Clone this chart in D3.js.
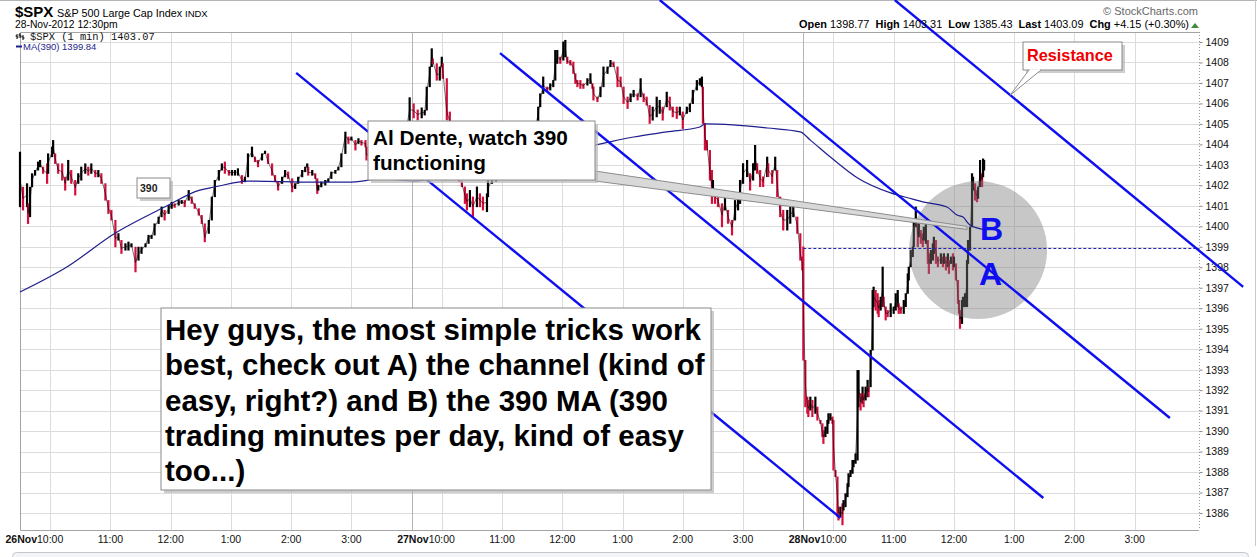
<!DOCTYPE html>
<html>
<head>
<meta charset="utf-8">
<script src="https://cdn.jsdelivr.net/npm/d3@7"></script>
<style>
  html, body { margin: 0; padding: 0; background: #fff; }
  svg { display: block; font-family: "Liberation Sans", Arial, sans-serif; }
</style>
</head>
<body>
<svg id="chart" width="1257" height="557"></svg>
<script>
'use strict';

// ---- data -----------------------------------------------------------------

const sessionLength = 390; // trading minutes per day
const dayLabels = ['26Nov', '27Nov', '28Nov'];
const hourLabels = ['10:00', '11:00', '12:00', '1:00', '2:00', '3:00'];
const hourMinutes = [30, 90, 150, 210, 270, 330];
const priceTicks = d3.range(1386, 1410);

const statLabels = ['Open', 'High', 'Low', 'Last', 'Chg'];
const statValues = ['1398.77', '1403.31', '1385.43', '1403.09', '+4.15 (+0.30%)'];
const legendLast = '1403.07';
const prevClose = 1398.94;

// [minute since the open, high, low]
const nov26Bars = [
  [0,1403.64,1400.96],[3,1401.93,1400.80],[7,1402.10,1400.96],[8,1401.12,1400.14],[10,1401.93,1400.47],
  [12,1402.59,1401.93],[15,1402.75,1402.50],[18,1403.16,1402.75],[20,1403.24,1402.91],[23,1402.91,1402.59],
  [27,1403.07,1402.10],[28,1403.56,1402.59],[32,1403.89,1403.40],[33,1404.21,1403.56],[35,1403.56,1403.07],
  [38,1402.91,1402.59],[42,1403.07,1402.26],[45,1402.42,1401.77],[48,1403.24,1402.26],[51,1402.75,1402.10],
  [55,1402.26,1401.53],[58,1402.59,1402.10],[61,1402.91,1402.26],[65,1403.07,1402.59],[68,1402.91,1402.50],
  [71,1403.07,1402.59],[75,1402.75,1402.42],[78,1402.75,1402.42],[81,1402.59,1402.10],[85,1401.93,1401.28],
  [88,1401.12,1400.63],[91,1400.80,1400.31],[95,1399.82,1399.00],[98,1399.66,1399.33],[101,1399.17,1398.68],
  [105,1399.17,1398.84],[108,1399.25,1398.84],[111,1399.17,1399.00],[115,1398.68,1397.78],[118,1399.00,1398.35],
  [121,1399.00,1398.68],[125,1399.17,1399.00],[128,1399.58,1399.41],[131,1399.58,1399.41],[134,1400.14,1399.82],
  [138,1400.47,1400.14],[141,1400.96,1400.63],[144,1400.80,1400.31],[148,1401.04,1400.63],[151,1401.20,1400.88],
  [154,1401.12,1400.93],[158,1401.28,1401.04],[161,1401.28,1401.12],[164,1401.28,1400.96],[168,1401.77,1401.45],
  [171,1401.45,1401.12],[174,1401.12,1400.88],[178,1400.80,1400.55],[181,1400.47,1400.14],[184,1399.66,1399.25],
  [188,1400.31,1399.82],[191,1401.45,1400.96],[194,1402.26,1401.93],[198,1402.75,1402.26],[201,1403.07,1402.75],
  [204,1403.16,1402.59],[208,1402.75,1402.50],[211,1402.75,1402.50],[214,1402.75,1402.50],[217,1402.83,1402.50],
  [221,1402.34,1402.10],[224,1402.42,1402.18],[227,1403.56,1403.07],[231,1403.89,1403.40],[234,1403.40,1403.16],
  [237,1403.24,1402.91],[241,1403.56,1403.32],[244,1403.69,1403.56],[247,1403.24,1403.07],[251,1402.91,1402.50],
  [254,1402.42,1402.18],[257,1402.10,1401.77],[261,1402.42,1402.10],[264,1402.75,1402.42],[267,1402.67,1402.34],
  [271,1402.10,1401.69],[274,1402.10,1401.85],[277,1402.42,1402.10],[281,1402.75,1402.50],[284,1402.91,1402.67],
  [286,1403.07,1402.91],[287,1402.75,1402.50],[291,1402.75,1402.50],[294,1402.59,1402.34],[296,1401.93,1401.61],
  [297,1402.02,1401.77],[300,1402.18,1401.93],[304,1402.26,1402.02],[307,1402.34,1402.18],[310,1402.67,1402.50],
  [314,1402.75,1402.59],[317,1402.91,1402.75],[320,1403.56,1403.24],[324,1404.62,1404.21],[327,1404.38,1404.05],
  [330,1404.38,1404.21],[334,1404.21,1403.73],[337,1404.30,1404.05],[340,1404.21,1403.97],[344,1404.21,1403.89],
  [345,1403.73,1403.24],[349,1403.80,1403.20],[353,1403.50,1402.90],[357,1403.20,1402.60],[361,1403.00,1402.40],
  [365,1403.30,1402.70],[369,1403.50,1402.90],[373,1403.80,1403.20],[377,1404.00,1403.30],[381,1404.30,1403.60],
  [384,1404.90,1404.20],[388,1406.30,1405.10]
];

const nov27Bars = [
  [2,1406.00,1405.30],[6,1405.70,1405.20],[10,1405.80,1405.30],[13,1405.68,1405.44],[15,1406.82,1406.33],
  [18,1407.80,1407.14],[20,1408.69,1408.12],[21,1408.20,1407.96],[25,1407.63,1407.14],[28,1407.80,1407.14],
  [30,1408.28,1407.80],[31,1407.96,1407.23],[35,1406.00,1405.20],[38,1405.60,1404.60],[41,1404.80,1403.80],
  [44,1403.90,1403.00],[47,1403.00,1402.20],[50,1402.18,1401.94],[53,1401.94,1401.12],[55,1401.61,1400.80],
  [58,1401.77,1400.96],[61,1401.45,1400.47],[65,1401.94,1400.96],[68,1401.61,1400.96],[71,1401.45,1400.80],
  [75,1401.61,1400.72],[76,1402.26,1401.45],[80,1402.43,1402.10],[84,1402.80,1402.20],[88,1403.00,1402.40],
  [92,1402.90,1402.30],[96,1403.30,1402.60],[100,1403.60,1402.90],[104,1403.50,1402.90],[108,1403.90,1403.20],
  [112,1404.20,1403.50],[116,1404.00,1403.40],[120,1404.60,1403.80],[123,1405.10,1404.40],[126,1405.84,1405.19],
  [128,1406.49,1405.84],[131,1407.31,1406.49],[135,1406.82,1406.58],[138,1406.98,1406.66],[141,1407.14,1406.82],
  [143,1408.61,1407.14],[145,1408.61,1407.96],[148,1408.28,1407.96],[151,1409.02,1408.12],[153,1409.10,1408.28],
  [155,1408.12,1407.96],[158,1408.12,1407.88],[161,1408.04,1407.47],[163,1407.47,1406.98],[165,1407.14,1406.82],
  [168,1407.14,1406.74],[171,1406.98,1406.74],[175,1407.23,1406.90],[178,1407.47,1406.98],[180,1406.98,1406.74],
  [181,1406.82,1406.17],[185,1406.33,1406.09],[188,1406.82,1406.33],[191,1407.80,1406.98],[195,1407.80,1407.47],
  [198,1408.12,1407.80],[201,1408.04,1407.80],[205,1407.47,1406.82],[208,1407.31,1406.82],[211,1406.66,1406.00],
  [215,1406.33,1405.76],[218,1406.49,1406.09],[221,1406.66,1406.33],[225,1406.49,1406.17],[228,1407.23,1406.33],
  [231,1406.49,1406.09],[234,1406.33,1405.92],[237,1405.68,1405.03],[240,1405.84,1405.19],[244,1406.33,1405.35],
  [247,1406.17,1405.52],[250,1405.84,1405.19],[254,1406.57,1405.84],[257,1406.33,1405.68],[260,1405.84,1405.35],
  [264,1405.84,1405.27],[267,1405.84,1405.44],[270,1405.60,1404.78],[274,1405.84,1405.52],[277,1406.00,1405.60],
  [280,1406.66,1406.17],[284,1407.14,1406.66],[287,1407.23,1406.90],[289,1407.31,1406.82],[290,1406.82,1405.03],
  [292,1405.03,1403.73],[294,1404.21,1403.73],[297,1403.08,1402.26],[299,1402.75,1401.12],[300,1402.26,1401.77],
  [302,1401.77,1401.12],[305,1401.61,1400.96],[309,1401.12,1399.98],[312,1401.45,1400.80],[315,1400.80,1400.15],
  [319,1400.31,1399.58],[322,1401.28,1400.31],[325,1401.61,1400.80],[327,1402.26,1401.12],[330,1403.08,1402.10],
  [334,1403.24,1402.43],[337,1402.59,1401.77],[340,1403.08,1402.26],[342,1403.97,1402.75],[344,1403.08,1402.59],
  [347,1402.75,1401.94],[350,1402.43,1401.94],[354,1403.40,1402.75],[355,1403.08,1402.43],[359,1402.75,1402.10],
  [362,1403.40,1402.75],[364,1402.75,1401.45],[367,1400.96,1400.47],[370,1400.80,1399.82],[374,1400.80,1399.82],
  [377,1400.96,1400.15],[380,1401.04,1400.47],[384,1400.47,1399.66],[387,1399.00,1398.35],[389,1398.52,1397.87]
];

const nov28Bars = [
  [0,1399.01,1393.47],[2,1393.47,1391.19],[4,1391.68,1390.87],[5,1391.52,1390.71],[7,1391.68,1391.03],
  [9,1391.52,1390.71],[12,1391.68,1390.87],[14,1391.19,1390.54],[17,1390.54,1390.38],[19,1390.05,1389.73],
  [20,1390.05,1389.40],[22,1390.22,1389.73],[24,1390.54,1389.89],[25,1390.87,1390.38],[27,1390.87,1390.54],
  [29,1390.71,1390.38],[30,1390.54,1388.10],[32,1388.10,1387.78],[34,1387.78,1385.82],[35,1386.31,1385.66],
  [37,1386.31,1385.82],[39,1386.47,1385.43],[40,1386.63,1386.15],[42,1386.96,1386.31],[44,1387.45,1386.80],
  [45,1387.94,1387.29],[47,1388.10,1387.78],[49,1388.59,1387.94],[50,1388.59,1388.26],[52,1388.91,1388.43],
  [54,1392.98,1388.59],[55,1392.98,1391.19],[57,1391.85,1391.03],[59,1392.17,1391.36],[60,1391.85,1391.19],
  [62,1392.17,1391.52],[64,1392.50,1391.68],[65,1392.17,1391.68],[67,1393.96,1392.17],[69,1396.89,1393.96],
  [70,1397.05,1396.08],[72,1396.89,1395.91],[74,1396.73,1395.75],[75,1396.40,1395.59],[77,1396.56,1395.91],
  [79,1398.03,1396.08],[80,1396.56,1396.08],[82,1396.08,1395.43],[84,1395.91,1395.59],[87,1396.24,1395.59],
  [90,1396.08,1395.75],[92,1396.73,1395.91],[94,1396.89,1396.08],[95,1396.24,1395.75],[97,1396.08,1395.75],
  [100,1396.40,1395.75],[102,1396.73,1396.08],[104,1397.70,1396.73],[105,1398.03,1397.38],[107,1398.84,1398.03],
  [109,1399.01,1398.52],[110,1400.31,1399.01],[112,1400.96,1399.98],[114,1400.15,1399.01],[115,1400.15,1399.49],
  [117,1399.82,1399.17],[119,1399.66,1399.01],[120,1399.98,1399.33],[122,1400.15,1399.17],[124,1399.33,1398.19],
  [125,1398.68,1397.70],[127,1398.84,1398.19],[129,1399.17,1398.35],[130,1399.49,1398.68],[132,1399.33,1398.19],
  [134,1398.52,1398.03],[137,1398.68,1398.19],[139,1398.52,1398.03],[140,1398.68,1398.19],[142,1398.52,1397.87],
  [144,1398.68,1398.03],[145,1398.35,1397.70],[147,1398.52,1398.19],[149,1398.68,1397.87],[150,1398.52,1398.03],
  [152,1398.19,1397.38],[154,1397.05,1396.24],[155,1396.40,1395.75],[156,1395.91,1395.02],[158,1396.40,1395.26],
  [159,1396.56,1396.08],[161,1396.73,1396.08],[163,1398.35,1396.08],[164,1399.33,1398.19],[166,1399.98,1398.84],
  [168,1402.59,1400.64],[169,1402.42,1401.77],[171,1402.10,1401.28],[173,1401.77,1401.20],[174,1401.94,1401.37],
  [176,1403.24,1402.10],[178,1402.59,1401.94],[179,1403.31,1402.42],[180,1403.24,1402.75]
];

// 390-minute moving average, minute counted from the 26Nov open
const maMinute = [0, 45, 95, 144, 179, 194, 227, 294, 327, 361, 393, 403, 440, 480, 520, 550, 573,
  611, 644, 677, 682, 710, 744, 777, 787, 807, 834, 867, 889, 899, 923, 933, 939, 946, 960];
const maValue = [1396.79, 1397.96, 1399.67, 1400.94, 1401.77, 1401.92, 1402.21, 1402.16, 1402.16, 1402.31,
  1402.21, 1402.26, 1402.50, 1402.90, 1403.40, 1403.75, 1403.97, 1404.36, 1404.61, 1404.85, 1405.00,
  1404.95, 1404.80, 1404.61, 1404.21, 1403.38, 1402.36, 1401.63, 1401.33, 1401.19, 1400.94, 1400.55,
  1400.45, 1400.06, 1399.84];

// hand drawn channel lines: [[minute, price], [minute, price]]
const channelLines = [
  [[275, 1407.49], [817, 1385.76]],
  [[478, 1408.46], [1019, 1386.73]],
  [[637, 1411.05], [1145, 1390.64]],
  [[871, 1411.05], [1218, 1397.04]]
];

const circleCenter = [954, 1398.84];
const noteTarget = [943, 1399.92];   // where the "Al Dente" pointer lands
const resistanceMinute = 986;        // point on the top channel line

const noteLines = [
  'Hey guys, the most simple tricks work',
  'best, check out A) the channel (kind of',
  'easy, right?) and B) the 390 MA (390',
  'trading minutes per day, kind of easy',
  'too...)'
];

// ---- layout -----------------------------------------------------------------

const svg = d3.select('#chart');
const plot = { left: 20, right: 1199, top: 32, bottom: 530 };

const x = d3.scaleLinear().domain([0, 1174]).range([plot.left, plot.right]);
const y = d3.scaleLinear().domain([1409, 1386]).range([42, 513]);

const red = '#d40f3c';
const blue = '#0e0ef0';
const navy = '#1e1e8e';

function fitWidth(sel, target) {
  const w = sel.node().getComputedTextLength();
  const fs = parseFloat(sel.attr('font-size'));
  const size = fs * target / w;
  sel.attr('font-size', size.toFixed(2));
  return size;
}

function shadowBox(g, x0, y0, w, h) {
  g.append('rect').attr('x', x0 + 3).attr('y', y0 + 3).attr('width', w).attr('height', h)
    .attr('fill', '#b8b8b8').attr('opacity', 0.7);
  g.append('rect').attr('x', x0).attr('y', y0).attr('width', w).attr('height', h)
    .attr('fill', '#fff').attr('stroke', '#8a8a8a').attr('stroke-width', 1);
}

// frame lines round the image
svg.append('line').attr('x1', 0).attr('x2', 1257).attr('y1', 0.5).attr('y2', 0.5)
  .attr('stroke', '#b4b4b4');
svg.append('line').attr('x1', 1255.5).attr('x2', 1255.5).attr('y1', 0).attr('y2', 546)
  .attr('stroke', '#c8c8c8');

// ---- grid -------------------------------------------------------------------

const grid = svg.append('g');
grid.selectAll('.hgrid').data(priceTicks).enter().append('line')
  .attr('x1', plot.left).attr('x2', plot.right)
  .attr('y1', d => Math.round(y(d)) + 0.5).attr('y2', d => Math.round(y(d)) + 0.5)
  .attr('stroke', '#dcdcdc');

const hourTicks = [];
dayLabels.forEach((day, d) => {
  hourMinutes.forEach((h, i) => hourTicks.push({ m: d * sessionLength + h, label: hourLabels[i], day: i === 0 ? day : null }));
});

grid.selectAll('.vgrid').data(hourTicks).enter().append('line')
  .attr('x1', d => Math.round(x(d.m)) + 0.5).attr('x2', d => Math.round(x(d.m)) + 0.5)
  .attr('y1', plot.top).attr('y2', plot.bottom)
  .attr('stroke', '#dcdcdc');

grid.selectAll('.dgrid').data([sessionLength, 2 * sessionLength]).enter().append('line')
  .attr('x1', d => Math.round(x(d)) + 0.5).attr('x2', d => Math.round(x(d)) + 0.5)
  .attr('y1', plot.top).attr('y2', plot.bottom)
  .attr('stroke', '#b4b4b4');

// plot border: left, top, bottom solid, right is the dotted axis
svg.append('path')
  .attr('d', `M${plot.right},${plot.top + 0.5}H${plot.left + 0.5}V${plot.bottom + 0.5}H${plot.right}`)
  .attr('fill', 'none').attr('stroke', '#a4a4a4');

// ---- axes -------------------------------------------------------------------

const yAxis = svg.append('g')
  .attr('transform', `translate(${plot.right + 0.5},0)`)
  .call(d3.axisRight(y).tickValues(priceTicks).tickSize(3).tickPadding(3).tickFormat(d3.format('d')));
yAxis.select('.domain').remove();
yAxis.selectAll('.tick line').attr('stroke', '#888');
yAxis.selectAll('.tick text')
  .attr('font-family', '"Liberation Sans", Arial, sans-serif').attr('font-size', 10.5).attr('fill', '#111');
svg.append('line')
  .attr('x1', plot.right + 0.5).attr('x2', plot.right + 0.5).attr('y1', plot.top).attr('y2', plot.bottom)
  .attr('stroke', '#999').attr('stroke-dasharray', '1,2');

const xLabels = svg.append('g');
hourTicks.forEach(t => {
  const lx = x(t.m);
  const txt = xLabels.append('text').attr('x', lx).attr('y', 543)
    .attr('text-anchor', 'middle').attr('font-size', 10.5).attr('fill', '#111').text(t.label);
  if (t.day) {
    const half = txt.node().getComputedTextLength() / 2;
    xLabels.append('text').attr('x', lx - half).attr('y', 543)
      .attr('text-anchor', 'end').attr('font-size', 10.5).attr('font-weight', 'bold')
      .attr('fill', '#111').text(t.day);
  }
});

// ---- price bars ---------------------------------------------------------------

const bars = [];
[nov26Bars, nov27Bars, nov28Bars].forEach((day, d) => {
  day.forEach(b => bars.push({ m: d * sessionLength + b[0], hi: b[1], lo: b[2] }));
});
bars.forEach((b, i) => {
  const prev = i > 0 ? bars[i - 1] : b;
  b.mid = (b.hi + b.lo) / 2;
  b.up = i === 0 || b.mid >= (prev.hi + prev.lo) / 2;
  // the 1-min bars touch each other, so stretch each to reach the one before
  b.top = Math.max(b.hi, prev.lo);
  b.bot = Math.min(b.lo, prev.hi);
});

const barG = svg.append('g');
barG.selectAll('line').data(bars).enter().append('line')
  .attr('x1', d => x(d.m)).attr('x2', d => x(d.m))
  .attr('y1', d => y(d.top)).attr('y2', d => y(d.bot) + 0.5)
  .attr('stroke', d => d.up ? '#000' : red)
  .attr('stroke-width', 2.2);

barG.append('path')
  .datum(bars)
  .attr('d', d3.line().x(d => x(d.m)).y(d => y(d.mid)))
  .attr('fill', 'none').attr('stroke', '#000').attr('stroke-width', 1).attr('opacity', 0.55);

// grey highlight circle over the bars
svg.append('circle')
  .attr('cx', x(circleCenter[0])).attr('cy', y(circleCenter[1])).attr('r', 69)
  .attr('fill', '#7a7a7a').attr('opacity', 0.42);

// ---- overlays -----------------------------------------------------------------

svg.append('path')
  .datum(d3.zip(maMinute, maValue))
  .attr('d', d3.line().x(d => x(d[0])).y(d => y(d[1])).curve(d3.curveMonotoneX))
  .attr('fill', 'none').attr('stroke', navy).attr('stroke-width', 1.2);

svg.append('line')
  .attr('x1', x(2 * sessionLength)).attr('x2', plot.right)
  .attr('y1', Math.round(y(prevClose)) + 0.5).attr('y2', Math.round(y(prevClose)) + 0.5)
  .attr('stroke', '#2424b4').attr('stroke-width', 1).attr('stroke-dasharray', '3,2');

svg.selectAll('.channel').data(channelLines).enter().append('line')
  .attr('x1', d => x(d[0][0])).attr('y1', d => y(d[0][1]))
  .attr('x2', d => x(d[1][0])).attr('y2', d => y(d[1][1]))
  .attr('stroke', blue).attr('stroke-width', 2.4);

svg.append('text').attr('x', 980).attr('y', 240)
  .attr('font-size', 32).attr('font-weight', 'bold').attr('fill', blue).text('B');
svg.append('text').attr('x', 979).attr('y', 285)
  .attr('font-size', 32).attr('font-weight', 'bold').attr('fill', blue).text('A');

// ---- callouts -----------------------------------------------------------------

// "390" label
const tag = svg.append('g');
shadowBox(tag, 137, 178, 33, 20);
tag.append('text').attr('x', 140).attr('y', 192)
  .attr('font-size', 10.5).attr('font-weight', 'bold').attr('fill', '#222').text('390');

// "Al Dente" note with its long pointer to the MA
const note = svg.append('g');
const tx = x(noteTarget[0]), ty = y(noteTarget[1]);
note.append('path')
  .attr('d', `M595,171L${tx},${ty - 1.5}L${tx},${ty + 1.5}L595,181Z`)
  .attr('fill', '#d8d8d8').attr('stroke', '#8c8c8c').attr('stroke-width', 1);
shadowBox(note, 368, 121, 227, 59);
const n1 = note.append('text').attr('x', 373).attr('y', 145)
  .attr('font-size', 20).attr('font-weight', 'bold').attr('fill', '#000').text('Al Dente, watch 390');
const nSize = fitWidth(n1, 195);
note.append('text').attr('x', 373).attr('y', 170)
  .attr('font-size', nSize).attr('font-weight', 'bold').attr('fill', '#000').text('functioning');

// "Resistance" pointing at the top channel line
const topLine = channelLines[3];
const rv = topLine[0][1] + (resistanceMinute - topLine[0][0]) * (topLine[1][1] - topLine[0][1]) / (topLine[1][0] - topLine[0][0]);
const res = svg.append('g');
shadowBox(res, 1023, 42, 99, 28);
res.append('path')
  .attr('d', `M1029,70L${x(resistanceMinute)},${y(rv)}L1041,70`)
  .attr('fill', '#fff').attr('stroke', '#8a8a8a').attr('stroke-width', 1);
res.append('line').attr('x1', 1030).attr('x2', 1040).attr('y1', 70).attr('y2', 70)
  .attr('stroke', '#fff').attr('stroke-width', 1.5);
const rt = res.append('text').attr('x', 1027).attr('y', 61)
  .attr('font-size', 16).attr('font-weight', 'bold').attr('fill', '#ee0000').text('Resistance');
fitWidth(rt, 86);

// big comment box
const big = svg.append('g');
shadowBox(big, 161, 308, 550, 182);
let bigSize = 28;
noteLines.forEach((line, i) => {
  const t = big.append('text').attr('x', 165).attr('y', 340 + i * 35.3)
    .attr('font-size', bigSize).attr('font-weight', 'bold').attr('fill', '#000').text(line);
  if (i === 0) bigSize = fitWidth(t, 536);
});

// ---- header -------------------------------------------------------------------

const head = svg.append('g');
head.append('text').attr('x', 15).attr('y', 17).attr('font-size', 15).attr('font-weight', 'bold').text('$SPX');
head.append('text').attr('x', 57).attr('y', 17).attr('font-size', 10.8).text('S&P 500 Large Cap Index');
head.append('text').attr('x', 185).attr('y', 17).attr('font-size', 9.5).text('INDX');
head.append('text').attr('x', 15).attr('y', 28).attr('font-size', 10.3).text('28-Nov-2012 12:30pm');

// legend inside the plot
const icon = head.append('g').attr('stroke', '#000').attr('stroke-width', 1);
[[17, 34, 39], [20, 33, 38], [23, 35, 40]].forEach(b => {
  icon.append('line').attr('x1', b[0]).attr('x2', b[0]).attr('y1', b[1]).attr('y2', b[2]);
  icon.append('line').attr('x1', b[0] - 1.5).attr('x2', b[0]).attr('y1', b[1] + 2).attr('y2', b[1] + 2);
  icon.append('line').attr('x1', b[0]).attr('x2', b[0] + 1.5).attr('y1', b[2] - 2).attr('y2', b[2] - 2);
});
head.append('text').attr('x', 30).attr('y', 40)
  .attr('font-family', '"Liberation Mono", "DejaVu Sans Mono", monospace').attr('font-size', 10.4)
  .attr('fill', '#111')
  .text('$SPX (1 min) ' + legendLast);
head.append('line').attr('x1', 16).attr('x2', 22).attr('y1', 46.5).attr('y2', 46.5)
  .attr('stroke', navy).attr('stroke-width', 2);
head.append('text').attr('x', 23).attr('y', 50).attr('font-size', 9.5).attr('fill', navy)
  .text('MA(390) ' + maValue[maValue.length - 1].toFixed(2));

head.append('text').attr('x', 1198).attr('y', 15).attr('text-anchor', 'end')
  .attr('font-size', 11).attr('fill', '#666').text('\u00a9 StockCharts.com');

const stats = head.append('text').attr('x', 1189).attr('y', 28).attr('text-anchor', 'end')
  .attr('font-size', 11).attr('fill', '#000').style('white-space', 'pre');
statLabels.forEach((lab, i) => {
  stats.append('tspan').attr('font-weight', 'bold').text((i ? '  ' : '') + lab + ' ');
  stats.append('tspan').text(statValues[i]);
});
fitWidth(stats, 390);
head.append('path').attr('d', 'M1191,28L1195,23L1199,28Z').attr('fill', '#3d8a3d');

// browser toolbar strip cut by the bottom edge
svg.append('rect').attr('x', 12.5).attr('y', 552.5).attr('width', 1236).attr('height', 14).attr('rx', 4)
  .attr('fill', '#f2f4f7').attr('stroke', '#c4c8ce');
</script>
</body>
</html>
